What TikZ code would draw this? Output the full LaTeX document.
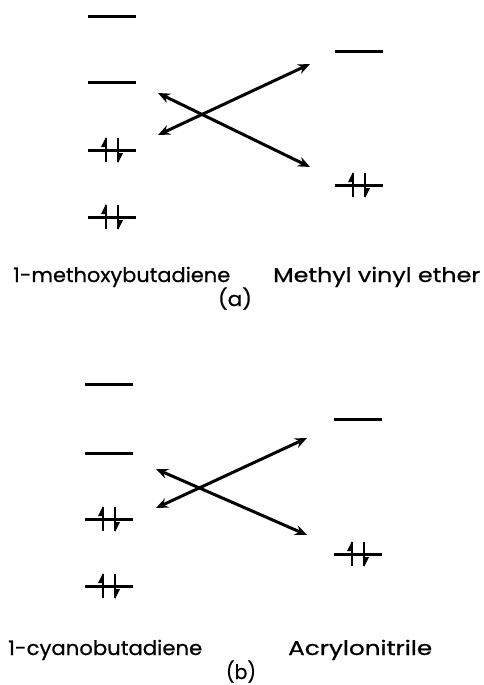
\documentclass[tikz,border=0pt]{standalone}
\usepackage{fontspec}
\usepackage{graphicx}
\setmainfont{Poppins}[FakeBold=0.6]
\usetikzlibrary{arrows.meta}
\tikzset{
  lvl/.style={line width=3pt},
  xarrow/.style={line width=3pt, {Stealth[length=12pt,width=10pt]}-{Stealth[length=12pt,width=10pt]}},
  elec/.style={line width=2.6pt},
  lbl/.style={font=\fontsize{20}{24}\selectfont, inner sep=0pt},
}
\newcommand{\fitw}[2]{\resizebox{#1}{\height}{#2}}
% electron pair at a level centre
\newcommand{\epair}[1]{%
  \draw[elec] ([shift={(-6,-12)}]#1) -- ([shift={(-6,12)}]#1);
  \fill ([shift={(-6,-13)}]#1) -- ([shift={(-11,-3)}]#1) -- ([shift={(-6,-3)}]#1) -- cycle;
  \draw[elec] ([shift={(6,-12)}]#1) -- ([shift={(6,12)}]#1);
  \fill ([shift={(6,13)}]#1) -- ([shift={(11,3)}]#1) -- ([shift={(6,3)}]#1) -- cycle;
}
\begin{document}
\begin{tikzpicture}[x=1pt,y=-1pt]
\useasboundingbox (0,0) rectangle (484,685);
% ---------- panel (a) ----------
\coordinate (aL1) at (112,17);
\coordinate (aL2) at (112,82);
\coordinate (aL3) at (112,150);
\coordinate (aL4) at (112,217);
\coordinate (aR1) at (359,52);
\coordinate (aR2) at (359,185);
\foreach \c in {aL1,aL2,aL3,aL4}{\draw[lvl] ([xshift=-24]\c) -- ([xshift=24]\c);}
\foreach \c in {aR1,aR2}{\draw[lvl] ([xshift=-24]\c) -- ([xshift=24]\c);}
\epair{aL3}
\epair{aL4}
\epair{aR2}
\coordinate (aP) at (158,135);
\coordinate (aQ) at (310,64);
\coordinate (aS) at (158,93);
\coordinate (aT) at (310,167);
\draw[xarrow] (aP) -- (aQ);
\draw[xarrow] (aS) -- (aT);
\node[lbl, anchor=base west] (aname1) at (13,282) {\fitw{217pt}{1-methoxybutadiene}};
\node[lbl, anchor=base west] (aname2) at (273,282) {\fitw{207pt}{Methyl vinyl ether}};
\node[lbl, anchor=base] (acap) at (235,306) {\fitw{34pt}{(a)}};
% ---------- panel (b) ----------
\coordinate (bL1) at (109,384);
\coordinate (bL2) at (109,453);
\coordinate (bL3) at (109,519);
\coordinate (bL4) at (109,586);
\coordinate (bR1) at (358,419);
\coordinate (bR2) at (358,554);
\foreach \c in {bL1,bL2,bL3,bL4}{\draw[lvl] ([xshift=-24]\c) -- ([xshift=24]\c);}
\foreach \c in {bR1,bR2}{\draw[lvl] ([xshift=-24]\c) -- ([xshift=24]\c);}
\epair{bL3}
\epair{bL4}
\epair{bR2}
\coordinate (bP) at (156,508);
\coordinate (bQ) at (307,438);
\coordinate (bS) at (156,469);
\coordinate (bT) at (307,535);
\draw[xarrow] (bP) -- (bQ);
\draw[xarrow] (bS) -- (bT);
\node[lbl, anchor=base west] (bname1) at (8,655) {\fitw{194pt}{1-cyanobutadiene}};
\node[lbl, anchor=base west] (bname2) at (288,655) {\fitw{144pt}{Acrylonitrile}};
\node[lbl, anchor=base] (bcap) at (241,679) {\fitw{30pt}{(b)}};
\end{tikzpicture}
\end{document}
